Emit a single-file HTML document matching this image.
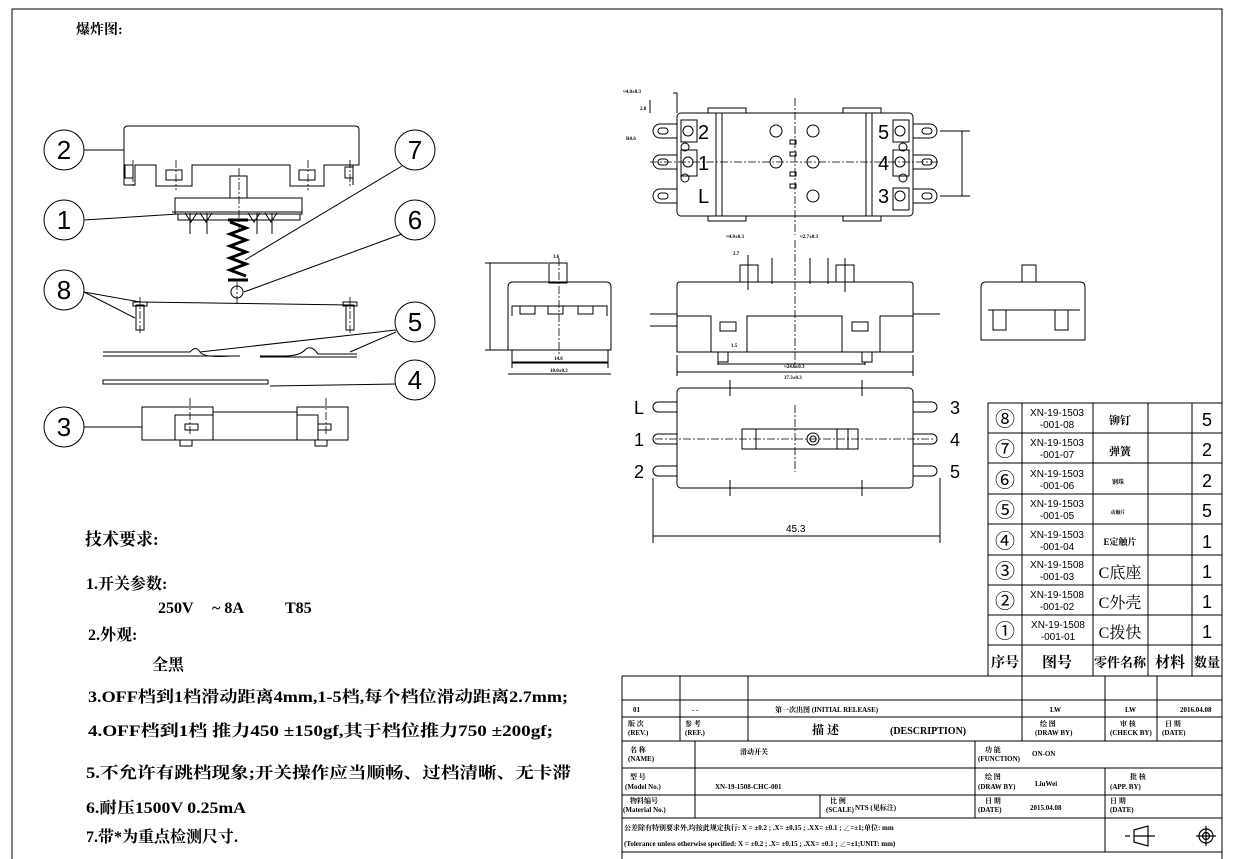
<!DOCTYPE html>
<html><head><meta charset="utf-8"><style>
html,body{margin:0;padding:0;background:#fff}
svg{display:block}
.t{font-family:"Liberation Serif","Noto Serif CJK SC","Noto Sans CJK SC",serif;font-weight:bold;fill:#000}
.s{font-family:"Liberation Sans","Noto Sans CJK SC",sans-serif;fill:#000}
</style></head><body>
<svg width="1238" height="859" viewBox="0 0 1238 859" xmlns="http://www.w3.org/2000/svg">
<g fill="none" stroke="#000" stroke-width="1">
<rect x="12" y="9" width="1210" height="860"/>
<circle cx="64" cy="150" r="20"/><circle cx="64" cy="220" r="20"/><circle cx="64" cy="290" r="20"/><circle cx="64" cy="427" r="20"/>
<circle cx="415" cy="150" r="20"/><circle cx="415" cy="220" r="20"/><circle cx="415" cy="322" r="20"/><circle cx="415" cy="380" r="20"/>
<line x1="84" y1="150" x2="124" y2="150"/><line x1="84" y1="220" x2="178" y2="214"/>
<line x1="84" y1="292" x2="140" y2="302"/><line x1="84" y1="292" x2="135" y2="318"/><line x1="140" y1="302" x2="350" y2="305"/>
<line x1="84" y1="427" x2="142" y2="427"/>
<line x1="402" y1="166" x2="245" y2="260"/><line x1="402" y1="234" x2="244" y2="292"/>
<line x1="396" y1="330" x2="200" y2="352"/><line x1="396" y1="332" x2="350" y2="352"/><line x1="396" y1="384" x2="270" y2="386"/>
<path d="M124,185 V130 Q124,126 128,126 H355 Q359,126 359,130 V165 H353 V185 M124,185 H135 V165 H156 V186 H192 V165 H290 V186 H324 V165 H353"/>
<rect x="125" y="165" width="8" height="13"/><rect x="166" y="170" width="16" height="10"/><rect x="299" y="170" width="16" height="10"/><rect x="345" y="167" width="8" height="11"/>
<rect x="230" y="176" width="17" height="22"/><path d="M175,198 H302 V214 H175 Z M172,212 H302 M178,214 V220 H300 V214"/>
<path d="M185,213 L191,222 L197,213 M200,213 L206,222 L212,213 M248,213 L254,222 L260,213 M265,213 L271,222 L277,213"/>
<line x1="190" y1="213" x2="190" y2="234"/><line x1="207" y1="213" x2="207" y2="234"/><line x1="257" y1="213" x2="257" y2="234"/><line x1="272" y1="213" x2="272" y2="234"/>
<path d="M228,220 H248 M228,280 H248 M230,222 L246,228 L230,234 L246,240 L230,246 L246,252 L230,258 L246,264 L230,270 L246,276" stroke-width="3"/>
<circle cx="237" cy="292" r="6"/>
<rect x="136" y="305" width="8" height="25"/><rect x="133" y="302" width="14" height="4"/>
<rect x="346" y="305" width="8" height="25"/><rect x="343" y="302" width="14" height="4"/>
<path d="M103,352 H190 Q196,345 200,352 Q204,358 230,356 H240 M260,356 H285 Q300,356 306,349 Q312,345 318,354 H357"/>
<path d="M103,356 H240 M260,357 H357"/>
<rect x="103" y="380" width="165" height="4"/>
<path d="M142,407 H213 V412 H297 V407 H348 V440 H142 Z M213,412 V440 M297,412 V440 M175,440 V415 H213 M318,440 V415 H297 M180,440 V446 H192 V440 M315,440 V446 H327 V440"/>
<rect x="185" y="424" width="13" height="6"/><rect x="318" y="424" width="13" height="6"/>
</g>
<g fill="none" stroke="#000" stroke-width="0.8" stroke-dasharray="8,2,2,2">
<line x1="133" y1="160" x2="133" y2="188"/><line x1="176" y1="160" x2="176" y2="190"/><line x1="308" y1="160" x2="308" y2="190"/><line x1="350" y1="160" x2="350" y2="188"/>
<line x1="239" y1="168" x2="239" y2="230"/><line x1="237" y1="282" x2="237" y2="306"/>
<line x1="140" y1="297" x2="140" y2="334"/><line x1="350" y1="297" x2="350" y2="334"/>
<line x1="190" y1="398" x2="190" y2="435"/><line x1="326" y1="398" x2="326" y2="435"/>
</g>
<g class="s" font-size="26" text-anchor="middle">
<text x="64" y="159">2</text><text x="64" y="229">1</text><text x="64" y="299">8</text><text x="64" y="436">3</text>
<text x="415" y="159">7</text><text x="415" y="229">6</text><text x="415" y="331">5</text><text x="415" y="389">4</text>
</g>

<g fill="none" stroke="#000" stroke-width="1">
<rect x="677" y="113" width="236" height="103" rx="4"/>
<rect x="681" y="120" width="16" height="22"/><rect x="681" y="150" width="16" height="26"/>
<rect x="893" y="120" width="16" height="22"/><rect x="893" y="150" width="16" height="26"/><rect x="893" y="188" width="16" height="22"/>
<line x1="716" y1="113" x2="716" y2="216"/><line x1="722" y1="113" x2="722" y2="216"/><line x1="866" y1="113" x2="866" y2="216"/><line x1="872" y1="113" x2="872" y2="216"/>
<rect x="708" y="108" width="38" height="5"/><rect x="843" y="108" width="38" height="5"/><rect x="708" y="216" width="38" height="5"/><rect x="843" y="216" width="38" height="5"/>
<circle cx="776" cy="131" r="6"/><circle cx="813" cy="131" r="6"/><circle cx="776" cy="162" r="6"/><circle cx="813" cy="162" r="6"/><circle cx="813" cy="196" r="6"/>
<circle cx="688" cy="131" r="5"/><circle cx="688" cy="162" r="5"/><circle cx="685" cy="147" r="4"/><circle cx="685" cy="178" r="4"/>
<circle cx="900" cy="131" r="5"/><circle cx="900" cy="162" r="5"/><circle cx="900" cy="196" r="5"/><circle cx="903" cy="147" r="4"/><circle cx="903" cy="178" r="4"/>
<rect x="790" y="140" width="6" height="4"/><rect x="790" y="152" width="6" height="4"/><rect x="790" y="172" width="6" height="4"/><rect x="790" y="184" width="6" height="4"/>
<path d="M677,124 H660 A7,7 0 0 0 660,138 H677 M677,155 H660 A7,7 0 0 0 660,169 H677 M677,189 H660 A7,7 0 0 0 660,203 H677"/>
<path d="M913,124 H930 A7,7 0 0 1 930,138 H913 M913,155 H930 A7,7 0 0 1 930,169 H913 M913,189 H930 A7,7 0 0 1 930,203 H913"/>
<rect x="658" y="128" width="10" height="6" rx="3"/><rect x="658" y="159" width="10" height="6" rx="3"/><rect x="658" y="193" width="10" height="6" rx="3"/>
<rect x="922" y="128" width="10" height="6" rx="3"/><rect x="922" y="159" width="10" height="6" rx="3"/><rect x="922" y="193" width="10" height="6" rx="3"/>
<path d="M940,131 H970 M940,196 H970 M962,131 V196 M673,93 H677 V113 M650,100 V113"/>
</g>
<line x1="795" y1="98" x2="795" y2="235" stroke="#000" stroke-width="0.8" stroke-dasharray="8,2,2,2"/>
<line x1="650" y1="162" x2="940" y2="162" stroke="#000" stroke-width="0.8" stroke-dasharray="8,2,2,2"/>
<g class="s" font-size="20">
<text x="698" y="139">2</text><text x="698" y="170">1</text><text x="698" y="203">L</text>
<text x="878" y="139">5</text><text x="878" y="170">4</text><text x="878" y="203">3</text>
</g>
<g class="t" font-size="5"><text x="623" y="93">≈4.0±0.3</text><text x="640" y="110">2.8</text><text x="626" y="140">R0.6</text><text x="726" y="238">≈4.0±0.3</text><text x="800" y="238">≈2.7±0.3</text></g>

<g fill="none" stroke="#000" stroke-width="1">
<path d="M677,352 V285 Q677,282 680,282 H910 Q913,282 913,285 V352 Z"/>
<rect x="740" y="265" width="18" height="17"/><rect x="836" y="265" width="18" height="17"/>
<path d="M677,316 H711 V352 M913,316 H880 V352 M747,352 V316 H842 V352"/>
<rect x="720" y="322" width="16" height="9"/><rect x="852" y="322" width="16" height="9"/>
<rect x="718" y="352" width="10" height="10"/><rect x="862" y="352" width="10" height="10"/>
<path d="M650,314 H677 M650,326 H677 M913,314 H940 M677,355 V376 M913,355 V376 M677,372 H913 M718,362 V365 M865,362 V365 M718,364 H865"/>
<line x1="748" y1="255" x2="748" y2="290"/><line x1="772" y1="258" x2="772" y2="284"/><line x1="810" y1="258" x2="810" y2="284"/><line x1="828" y1="258" x2="828" y2="284"/><line x1="845" y1="258" x2="845" y2="292"/>
</g>
<line x1="795" y1="240" x2="795" y2="368" stroke="#000" stroke-width="0.8" stroke-dasharray="8,2,2,2"/>
<g class="t" font-size="5"><text x="784" y="368">≈24.0±0.3</text><text x="784" y="379">37.3±0.3</text><text x="733" y="255">2.7</text><text x="731" y="347">1.5</text></g>

<g fill="none" stroke="#000" stroke-width="1">
<rect x="549" y="263" width="18" height="20"/>
<path d="M508,350 V287 Q508,282 513,282 H606 Q611,282 611,287 V350 Z M512,350 V362 H608 V350"/>
<path d="M512,316 V306 H607 V316 M520,306 V314 H535 V306 M548,306 V314 H563 V306 M578,306 V314 H593 V306"/>
<path d="M485,263 H548 M485,350 H508 M490,263 V350 M508,374 H611 M512,358 V368 M608,358 V368 M512,363 H608"/>
</g>
<line x1="559" y1="258" x2="559" y2="356" stroke="#000" stroke-width="0.8" stroke-dasharray="8,2,2,2"/>
<g class="t" font-size="5"><text x="553" y="258">3.6</text><text x="554" y="360">14.6</text><text x="550" y="372">18.0±0.2</text></g>

<g fill="none" stroke="#000" stroke-width="1">
<rect x="1022" y="265" width="14" height="17"/>
<path d="M981,340 V287 Q981,282 986,282 H1080 Q1085,282 1085,287 V340 Z"/>
<path d="M988,310 H1080 M993,310 V330 H1006 V310 M1055,310 V330 H1068 V310"/>
</g>

<g fill="none" stroke="#000" stroke-width="1">
<rect x="677" y="388" width="236" height="100" rx="4"/>
<rect x="742" y="429" width="116" height="20"/><line x1="756" y1="429" x2="756" y2="449"/><line x1="837" y1="429" x2="837" y2="449"/><line x1="848" y1="429" x2="848" y2="449"/>
<circle cx="813" cy="439" r="6"/><circle cx="813" cy="439" r="3"/>
<path d="M677,402 H658 A5,5 0 0 0 658,412 H677 M677,434 H658 A5,5 0 0 0 658,444 H677 M677,466 H658 A5,5 0 0 0 658,476 H677"/>
<path d="M913,402 H932 A5,5 0 0 1 932,412 H913 M913,434 H932 A5,5 0 0 1 932,444 H913 M913,466 H932 A5,5 0 0 1 932,476 H913"/>
<path d="M653,478 V543 M940,478 V543 M653,536 H940"/>
<line x1="730" y1="380" x2="730" y2="396"/><line x1="862" y1="380" x2="862" y2="396"/><line x1="730" y1="480" x2="730" y2="496"/><line x1="862" y1="480" x2="862" y2="496"/>
</g>
<line x1="795" y1="405" x2="795" y2="472" stroke="#000" stroke-width="0.8" stroke-dasharray="8,2,2,2"/>
<line x1="655" y1="439" x2="935" y2="439" stroke="#000" stroke-width="0.8" stroke-dasharray="8,2,2,2"/>
<g class="s" font-size="18">
<text x="634" y="414">L</text><text x="634" y="446">1</text><text x="634" y="478">2</text>
<text x="950" y="414">3</text><text x="950" y="446">4</text><text x="950" y="478">5</text>
</g>
<text class="s" x="786" y="532" font-size="10">45.3</text>

<g fill="none" stroke="#000" stroke-width="1">
<rect x="988" y="403" width="234" height="273"/>
<path d="M988,433 H1222 M988,463 H1222 M988,494 H1222 M988,524 H1222 M988,555 H1222 M988,585 H1222 M988,615 H1222 M988,645 H1222"/>
<path d="M1022,403 V676 M1093,403 V676 M1148,403 V676 M1192,403 V676"/>
</g>
<g class="s" font-size="20" text-anchor="middle">
<text x="1005" y="426">⑧</text><text x="1005" y="456">⑦</text><text x="1005" y="487">⑥</text><text x="1005" y="517">⑤</text><text x="1005" y="548">④</text><text x="1005" y="578">③</text><text x="1005" y="608">②</text><text x="1005" y="638">①</text>
</g>
<g class="s" font-size="10" text-anchor="middle">
<text x="1057" y="416">XN-19-1503</text><text x="1057" y="428">-001-08</text>
<text x="1057" y="446">XN-19-1503</text><text x="1057" y="458">-001-07</text>
<text x="1057" y="477">XN-19-1503</text><text x="1057" y="489">-001-06</text>
<text x="1057" y="507">XN-19-1503</text><text x="1057" y="519">-001-05</text>
<text x="1057" y="538">XN-19-1503</text><text x="1057" y="550">-001-04</text>
<text x="1057" y="568">XN-19-1508</text><text x="1057" y="580">-001-03</text>
<text x="1057" y="598">XN-19-1508</text><text x="1057" y="610">-001-02</text>
<text x="1058" y="628">XN-19-1508</text><text x="1058" y="640">-001-01</text>
</g>
<g class="s" font-size="18" text-anchor="middle">
<text x="1207" y="426">5</text><text x="1207" y="456">2</text><text x="1207" y="487">2</text><text x="1207" y="517">5</text><text x="1207" y="548">1</text><text x="1207" y="578">1</text><text x="1207" y="608">1</text><text x="1207" y="638">1</text>
</g>
<g class="t" text-anchor="middle">
<text x="1120" y="424" font-size="11">铆钉</text><text x="1120" y="455" font-size="11">弹簧</text><text x="1118" y="484" font-size="6">钢珠</text><text x="1118" y="514" font-size="5">动触片</text><text x="1120" y="545" font-size="9">E定触片</text>
<text x="1120" y="578" font-size="16" font-weight="normal">C底座</text><text x="1120" y="608" font-size="16" font-weight="normal">C外壳</text><text x="1120" y="638" font-size="16" font-weight="normal">C拨快</text>
<text x="1005" y="667" font-size="14">序号</text><text x="1057" y="667" font-size="15">图号</text><text x="1120" y="667" font-size="13">零件名称</text><text x="1170" y="667" font-size="15">材料</text><text x="1207" y="667" font-size="13">数量</text>
</g>

<g fill="none" stroke="#000" stroke-width="1">
<path d="M622,676 H1222 M622,700 H1222 M622,717 H1222 M622,741 H1222 M622,768 H1222 M622,795 H1222 M622,818 H1222 M622,852 H1222 M622,676 V859"/>
<path d="M680,676 V741 M748,676 V741 M1022,676 V741 M1105,676 V741 M1157,676 V741"/>
<path d="M695,741 V818 M975,741 V818 M1105,768 V852 M820,795 V818"/>
</g>
<g class="t" font-size="7" style="white-space:pre">
<text x="633" y="712">01</text><text x="692" y="712">- -</text><text x="775" y="712">第一次出图  (INITIAL RELEASE)</text>
<text x="1050" y="712">LW</text><text x="1125" y="712">LW</text><text x="1180" y="712">2016.04.08</text>
<text x="628" y="726">版 次</text><text x="628" y="735">(REV.)</text><text x="685" y="726">参 考</text><text x="685" y="735">(REF.)</text>
<text x="812" y="734" font-size="12">描  述</text><text x="890" y="734" font-size="10">(DESCRIPTION)</text>
<text x="1040" y="726">绘 图</text><text x="1035" y="735">(DRAW BY)</text><text x="1120" y="726">审 核</text><text x="1110" y="735">(CHECK BY)</text><text x="1165" y="726">日 期</text><text x="1162" y="735">(DATE)</text>
<text x="630" y="752">名 称</text><text x="628" y="761">(NAME)</text><text x="740" y="754">滑动开关</text>
<text x="985" y="752">功 能</text><text x="978" y="761">(FUNCTION)</text><text x="1032" y="756">ON-ON</text>
<text x="630" y="779">型 号</text><text x="625" y="789">(Model No.)</text><text x="715" y="789">XN-19-1508-CHC-001</text>
<text x="985" y="779">绘 图</text><text x="978" y="789">(DRAW BY)</text><text x="1035" y="786">LiuWei</text>
<text x="1130" y="779">批 核</text><text x="1110" y="789">(APP. BY)</text>
<text x="630" y="803">物料编号</text><text x="623" y="812">(Material No.)</text>
<text x="830" y="803">比 例</text><text x="826" y="812">(SCALE)</text><text x="855" y="810">NTS  (见标注)</text>
<text x="985" y="803">日 期</text><text x="978" y="812">(DATE)</text><text x="1030" y="810">2015.04.08</text>
<text x="1110" y="803">日 期</text><text x="1110" y="812">(DATE)</text>
<text x="624" y="830">公差除有特别要求外,均按此规定执行:     X = ±0.2 ;     .X= ±0.15 ;     .XX= ±0.1  ; ∠=±1;单位: mm</text>
<text x="624" y="846">(Tolerance unless otherwise specified:  X = ±0.2 ;     .X= ±0.15 ;    .XX= ±0.1  ;   ∠=±1;UNIT: mm)</text>
</g>
<g fill="none" stroke="#000" stroke-width="1.2">
<path d="M1130,836 H1125 M1134,830 L1148,826 V846 L1134,842 Z M1134,836 H1155"/>
<circle cx="1206" cy="836" r="7"/><circle cx="1206" cy="836" r="3.5"/><path d="M1196,836 H1216 M1206,826 V846"/>
</g>

<text class="t" x="76" y="34" font-size="14">爆炸图:</text>
<g class="t" font-size="16">
<text x="85" y="545" font-size="17">技术要求:</text>
<text x="86" y="589">1.开关参数:</text>
<text x="158" y="613">250V</text><text x="212" y="613">~ 8A</text><text x="285" y="613">T85</text>
<text x="88" y="640">2.外观:</text>
<text x="152" y="670">全黑</text>
<text x="88" y="702" textLength="480" lengthAdjust="spacingAndGlyphs">3.OFF档到1档滑动距离4mm,1-5档,每个档位滑动距离2.7mm;</text>
<text x="88" y="736" textLength="465" lengthAdjust="spacingAndGlyphs">4.OFF档到1档  推力450 ±150gf,其于档位推力750 ±200gf;</text>
<text x="86" y="778" textLength="485" lengthAdjust="spacingAndGlyphs">5.不允许有跳档现象;开关操作应当顺畅、过档清晰、无卡滞</text>
<text x="86" y="813" textLength="160" lengthAdjust="spacingAndGlyphs">6.耐压1500V 0.25mA</text>
<text x="86" y="842">7.带*为重点检测尺寸.</text>
</g>
</svg>
</body></html>
